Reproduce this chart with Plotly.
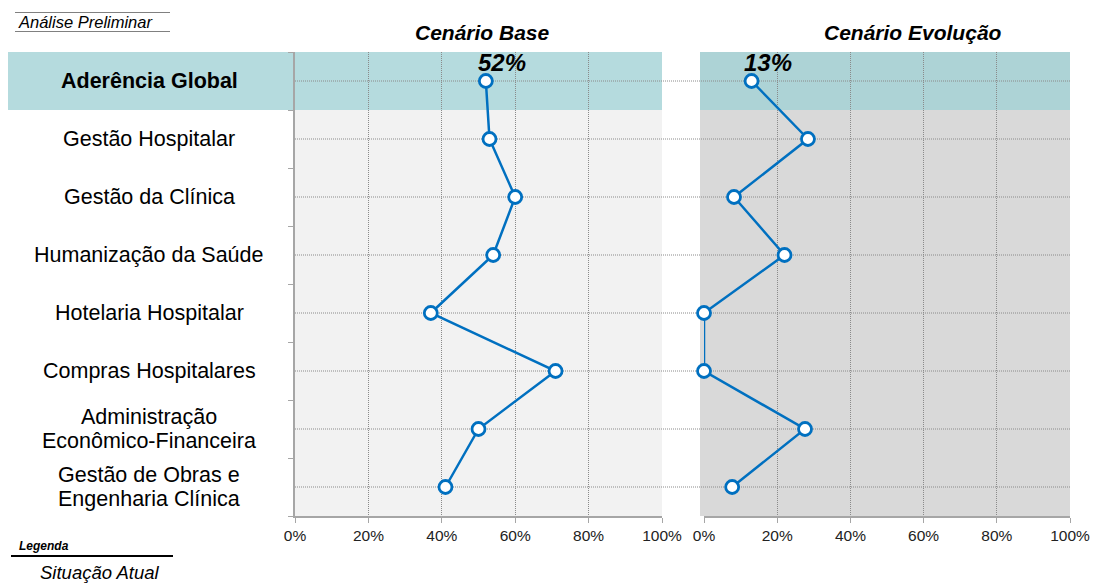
import plotly.graph_objects as go

W, H = 1093, 583

categories = [
    "Aderência Global",
    "Gestão Hospitalar",
    "Gestão da Clínica",
    "Humanização da Saúde",
    "Hotelaria Hospitalar",
    "Compras Hospitalares",
    "Administração\nEconômico-Financeira",
    "Gestão de Obras e\nEngenharia Clínica",
]
base_values = [52, 53, 60, 54, 37, 71, 50, 41]
evol_values = [13, 28.4, 8.2, 22, 0, 0, 27.6, 7.7]
tick_vals = [0, 20, 40, 60, 80, 100]
tick_text = ["0%", "20%", "40%", "60%", "80%", "100%"]
panel_titles = ["Cenário Base", "Cenário Evolução"]

FONT = "Liberation Sans, Arial, sans-serif"
BLUE = "#0070C0"
GRID = "#8A8A8A"
AXIS = "#A6A6A6"
DOT = "1px,1px"


def px(x):
    return x / W


def py(y):
    return 1 - y / H


TOP, ROW1, BOT = 52, 110, 516
L0, L1 = 295, 662
R0, R1, RBG = 704, 1070, 700

idx = list(range(len(categories)))
fig = go.Figure()
for vals, xa in [(base_values, "x"), (evol_values, "x2")]:
    fig.add_trace(go.Scatter(
        x=vals, y=idx, xaxis=xa, yaxis="y", mode="lines+markers",
        line=dict(color=BLUE, width=2.5),
        marker=dict(symbol="circle", size=13, color="white",
                    line=dict(color=BLUE, width=2.8)),
        cliponaxis=False, hoverinfo="skip", showlegend=False,
    ))

shapes = []
# backgrounds
shapes.append(dict(type="rect", xref="paper", yref="paper", layer="below",
                   x0=px(8), x1=px(L1), y0=py(ROW1), y1=py(TOP),
                   fillcolor="#B5DBDE", line=dict(width=0)))
shapes.append(dict(type="rect", xref="paper", yref="paper", layer="below",
                   x0=px(RBG), x1=px(R1), y0=py(ROW1), y1=py(TOP),
                   fillcolor="#ADD3D6", line=dict(width=0)))
shapes.append(dict(type="rect", xref="paper", yref="paper", layer="below",
                   x0=px(L0), x1=px(L1), y0=py(BOT), y1=py(ROW1),
                   fillcolor="#F2F2F2", line=dict(width=0)))
shapes.append(dict(type="rect", xref="paper", yref="paper", layer="below",
                   x0=px(RBG), x1=px(R1), y0=py(BOT), y1=py(ROW1),
                   fillcolor="#D9D9D9", line=dict(width=0)))
# horizontal dotted gridlines across both panels
for i in idx:
    shapes.append(dict(type="line", xref="paper", yref="y", layer="below",
                       x0=px(L0), x1=px(R1), y0=i, y1=i,
                       line=dict(color=GRID, width=1, dash=DOT)))
# header lines
shapes.append(dict(type="line", xref="paper", yref="paper",
                   x0=px(15), x1=px(170), y0=py(12.5), y1=py(12.5),
                   line=dict(color="#808080", width=1)))
shapes.append(dict(type="line", xref="paper", yref="paper",
                   x0=px(15), x1=px(170), y0=py(31.5), y1=py(31.5),
                   line=dict(color="#808080", width=1)))
# legend line
shapes.append(dict(type="line", xref="paper", yref="paper",
                   x0=px(11), x1=px(173), y0=py(556), y1=py(556),
                   line=dict(color="#000000", width=2)))

ann = []
for i, cat in enumerate(categories):
    lines = cat.split("\n")
    n = len(lines)
    for j, ln in enumerate(lines):
        shift = (n - 1) / 2 * 24 - j * 24
        txt = f"<b>{ln}</b>" if i == 0 else ln
        ann.append(dict(x=px(149), xref="paper", y=i, yref="y", yshift=shift,
                        text=txt, showarrow=False, xanchor="center",
                        yanchor="middle",
                        font=dict(family=FONT, size=21.5, color="#000000")))

ann.append(dict(x=px(482), y=py(33), xref="paper", yref="paper",
                xanchor="center", yanchor="middle",
                text=f"<b><i>{panel_titles[0]}</i></b>", showarrow=False,
                font=dict(family=FONT, size=21, color="#000000")))
ann.append(dict(x=px(913), y=py(33), xref="paper", yref="paper",
                xanchor="center", yanchor="middle",
                text=f"<b><i>{panel_titles[1]}</i></b>", showarrow=False,
                font=dict(family=FONT, size=21, color="#000000")))
for vals, xa in [(base_values, "x"), (evol_values, "x2")]:
    ann.append(dict(x=vals[0], y=0, xref=xa, yref="y", xshift=16, yshift=19,
                    xanchor="center", yanchor="middle",
                    text=f"<b><i>{round(vals[0])}%</i></b>", showarrow=False,
                    font=dict(family=FONT, size=24, color="#000000")))

ann.append(dict(x=px(16), y=py(22), xref="paper", yref="paper",
                xanchor="left", yanchor="middle",
                text="<i>Análise Preliminar</i>", showarrow=False,
                font=dict(family=FONT, size=16.5, color="#000000")))
ann.append(dict(x=px(17), y=py(546), xref="paper", yref="paper",
                xanchor="left", yanchor="middle",
                text="<b><i>Legenda</i></b>", showarrow=False,
                font=dict(family=FONT, size=12, color="#000000")))
ann.append(dict(x=px(38), y=py(572), xref="paper", yref="paper",
                xanchor="left", yanchor="middle",
                text="<i>Situação Atual</i>", showarrow=False,
                font=dict(family=FONT, size=18.5, color="#000000")))

xcommon = dict(
    range=[0, 100], tickmode="array", tickvals=tick_vals, ticktext=tick_text,
    ticks="outside", ticklen=5, tickcolor=AXIS, showline=True,
    linecolor=AXIS, linewidth=1.5, showgrid=True, gridcolor=GRID,
    gridwidth=1, griddash=DOT, zeroline=False, fixedrange=True,
    automargin=False,
    tickfont=dict(family=FONT, size=15.5, color="#222222"), anchor="y",
)

fig.update_layout(
    width=W, height=H, autosize=False,
    margin=dict(l=0, r=0, t=0, b=0, pad=0),
    paper_bgcolor="white", plot_bgcolor="rgba(0,0,0,0)",
    showlegend=False,
    xaxis=dict(domain=[px(L0), px(L1)], **xcommon),
    xaxis2=dict(domain=[px(R0), px(R1)], **xcommon),
    yaxis=dict(domain=[py(BOT), py(TOP)], range=[7.5, -0.5],
               tickmode="array", tickvals=[i - 0.5 for i in range(9)],
               ticks="outside", ticklen=5, tickcolor=AXIS,
               showticklabels=False, showline=True, linecolor=AXIS,
               linewidth=1.5, showgrid=False, zeroline=False,
               fixedrange=True, automargin=False, anchor="x"),
    shapes=shapes, annotations=ann,
)

fig.write_html("out.html")
